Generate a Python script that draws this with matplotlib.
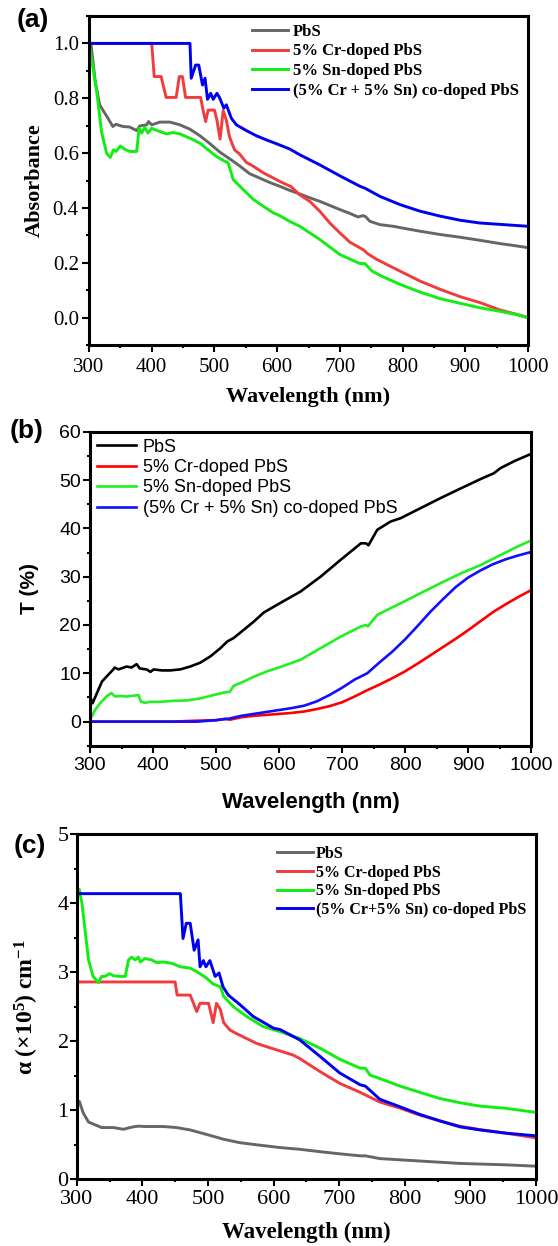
import numpy as np
import matplotlib
matplotlib.use("Agg")
import matplotlib.pyplot as plt
from matplotlib.ticker import MultipleLocator, FormatStrFormatter

# ── Data: (a) absorbance ─────────────────────────────────────────────────────
a_pbs_x = [300, 303, 310, 317, 324, 330, 338, 343, 354, 365, 376, 381, 392, 395, 400, 413, 429, 445, 461,
           477, 493, 509, 525, 541, 556, 572, 588, 604, 620, 636, 652, 668, 684, 700, 716, 729, 737, 741,
           748, 764, 785, 806, 828, 860, 892, 923, 955, 980, 1000]
a_pbs_y = [0.93, 1.0, 0.86, 0.776, 0.75, 0.728, 0.697, 0.705, 0.697, 0.695, 0.682, 0.699, 0.703, 0.715,
           0.703, 0.713, 0.713, 0.703, 0.687, 0.663, 0.634, 0.603, 0.578, 0.552, 0.525, 0.509, 0.493, 0.479,
           0.464, 0.451, 0.437, 0.424, 0.409, 0.394, 0.380, 0.367, 0.372, 0.368, 0.351, 0.339, 0.333, 0.324,
           0.315, 0.303, 0.293, 0.282, 0.270, 0.262, 0.255]

a_cr_x = [300, 400, 404, 415, 423, 439, 444, 449, 454, 474, 478, 482, 486, 490, 500, 504, 509, 514, 519, 524,
          532, 540, 551, 562, 578, 594, 604, 615, 622, 636, 652, 668, 684, 700, 716, 737, 745, 759, 785, 806,
          828, 860, 892, 923, 955, 980, 1000]
a_cr_y = [1.0, 1.0, 0.879, 0.879, 0.803, 0.803, 0.879, 0.879, 0.803, 0.803, 0.803, 0.755, 0.715, 0.757, 0.757,
          0.72, 0.651, 0.755, 0.72, 0.66, 0.612, 0.597, 0.566, 0.552, 0.528, 0.509, 0.497, 0.485, 0.478, 0.448,
          0.424, 0.388, 0.345, 0.309, 0.275, 0.248, 0.232, 0.212, 0.182, 0.158, 0.133, 0.103, 0.076, 0.055,
          0.028, 0.013, 0.0]

a_sn_x = [300, 305, 312, 320, 328, 334, 339, 343, 350, 357, 365, 376, 380, 384, 389, 394, 400, 405, 413, 424,
          434, 445, 461, 477, 493, 503, 514, 522, 530, 546, 562, 578, 594, 604, 620, 636, 668, 700, 732, 740,
          751, 764, 796, 828, 860, 892, 923, 955, 980, 1000]
a_sn_y = [1.0, 0.93, 0.83, 0.678, 0.60, 0.584, 0.612, 0.606, 0.626, 0.614, 0.606, 0.606, 0.691, 0.673, 0.694,
          0.673, 0.691, 0.685, 0.679, 0.670, 0.675, 0.670, 0.654, 0.636, 0.606, 0.588, 0.573, 0.564, 0.503,
          0.467, 0.431, 0.406, 0.382, 0.372, 0.351, 0.333, 0.285, 0.230, 0.197, 0.197, 0.170, 0.154, 0.121,
          0.093, 0.069, 0.052, 0.036, 0.023, 0.012, 0.0]

a_co_x = [300, 461, 463, 470, 475, 481, 485, 489, 494, 498, 504, 508, 515, 519, 527, 535, 551, 567, 583, 599,
          620, 636, 668, 700, 732, 740, 764, 796, 828, 860, 892, 923, 955, 1000]
a_co_y = [1.0, 1.0, 0.873, 0.921, 0.921, 0.848, 0.873, 0.796, 0.818, 0.796, 0.818, 0.803, 0.764, 0.776, 0.727,
          0.703, 0.682, 0.663, 0.648, 0.634, 0.615, 0.594, 0.557, 0.517, 0.479, 0.472, 0.442, 0.412, 0.388,
          0.370, 0.355, 0.345, 0.340, 0.333]

# ── Data: (b) transmittance (%) ──────────────────────────────────────────────
b_pbs_x = [300, 304, 311, 319, 329, 337, 339, 345, 358, 366, 374, 379, 390, 396, 401, 414, 427, 443, 459, 475,
           491, 507, 518, 528, 544, 560, 576, 592, 608, 634, 666, 698, 730, 738, 742, 756, 777, 793, 825, 857,
           889, 920, 941, 952, 975, 1000]
b_pbs_y = [5.2, 3.8, 5.9, 8.3, 9.7, 10.8, 11.2, 10.8, 11.4, 11.2, 11.9, 11.0, 10.8, 10.3, 10.8, 10.6, 10.6,
           10.8, 11.4, 12.2, 13.5, 15.2, 16.6, 17.3, 19.0, 20.7, 22.6, 23.8, 25.0, 26.9, 30.0, 33.5, 36.9, 36.9,
           36.5, 39.7, 41.4, 42.1, 44.2, 46.3, 48.3, 50.2, 51.4, 52.5, 54.0, 55.4]

b_cr_x = [300, 430, 470, 500, 515, 522, 540, 560, 580, 600, 620, 640, 660, 680, 700, 720, 740, 760, 780, 800,
          820, 840, 860, 880, 900, 920, 940, 960, 980, 1000]
b_cr_y = [0.0, 0.0, 0.2, 0.3, 0.6, 0.4, 0.9, 1.2, 1.4, 1.6, 1.8, 2.1, 2.6, 3.2, 4.0, 5.2, 6.5, 7.7, 9.0, 10.4,
          12.0, 13.7, 15.4, 17.1, 18.9, 20.8, 22.7, 24.3, 25.8, 27.2]

b_sn_x = [300, 308, 316, 326, 334, 340, 348, 358, 377, 381, 388, 395, 411, 432, 454, 475, 496, 512, 522, 528,
          544, 560, 581, 602, 634, 666, 698, 730, 738, 741, 756, 793, 825, 857, 889, 920, 952, 975, 1000]
b_sn_y = [0.4, 2.4, 3.8, 5.2, 5.9, 5.2, 5.3, 5.2, 5.5, 4.1, 3.9, 4.1, 4.1, 4.3, 4.4, 4.8, 5.5, 6.0, 6.2, 7.4,
          8.3, 9.3, 10.4, 11.3, 12.8, 15.2, 17.6, 19.7, 20.0, 19.7, 22.1, 24.5, 26.6, 28.7, 30.7, 32.4, 34.5,
          36.0, 37.5]

b_co_x = [300, 470, 500, 520, 540, 560, 580, 600, 620, 640, 660, 680, 700, 720, 740, 760, 780, 800, 820, 840,
          860, 880, 900, 920, 940, 960, 980, 1000]
b_co_y = [0.0, 0.0, 0.3, 0.6, 1.2, 1.6, 2.0, 2.4, 2.8, 3.3, 4.2, 5.5, 7.0, 8.7, 10.0, 12.3, 14.5, 17.0, 19.8,
          22.7, 25.3, 27.8, 29.8, 31.3, 32.6, 33.6, 34.4, 35.1]

# ── Data: (c) absorption coefficient (x10^5 cm^-1) ───────────────────────────
c_pbs_x = [300, 304, 310, 318, 328, 338, 356, 371, 386, 394, 405, 432, 452, 473, 498, 524, 549, 574, 610, 640,
           671, 700, 732, 740, 762, 823, 884, 953, 1000]
c_pbs_y = [1.05, 1.13, 0.96, 0.83, 0.79, 0.75, 0.75, 0.725, 0.76, 0.77, 0.765, 0.765, 0.75, 0.715, 0.65, 0.58,
           0.53, 0.50, 0.46, 0.435, 0.40, 0.37, 0.34, 0.34, 0.30, 0.265, 0.23, 0.21, 0.19]

c_cr_x = [300, 450, 453, 473, 483, 488, 501, 508, 513, 519, 524, 534, 544, 559, 574, 590, 610, 630, 640, 671,
          701, 732, 762, 793, 823, 854, 884, 915, 953, 1000]
c_cr_y = [2.86, 2.86, 2.67, 2.67, 2.43, 2.55, 2.55, 2.27, 2.55, 2.46, 2.27, 2.16, 2.11, 2.04, 1.97, 1.92, 1.86,
          1.80, 1.75, 1.56, 1.39, 1.26, 1.12, 1.03, 0.93, 0.845, 0.77, 0.72, 0.67, 0.60]

c_sn_x = [300, 304, 308, 318, 325, 333, 338, 343, 350, 356, 366, 374, 379, 384, 389, 394, 397, 404, 414, 422,
          432, 445, 458, 473, 483, 496, 508, 519, 524, 539, 559, 585, 610, 640, 671, 701, 732, 740, 747, 762,
          793, 823, 854, 884, 915, 953, 1000]
c_sn_y = [4.15, 4.2, 4.0, 3.18, 2.94, 2.85, 2.94, 2.94, 2.98, 2.95, 2.94, 2.94, 3.18, 3.22, 3.18, 3.22, 3.15,
          3.20, 3.18, 3.14, 3.15, 3.13, 3.08, 3.06, 3.01, 2.93, 2.83, 2.79, 2.65, 2.50, 2.36, 2.21, 2.14, 2.04,
          1.90, 1.74, 1.61, 1.61, 1.51, 1.46, 1.35, 1.26, 1.17, 1.11, 1.06, 1.03, 0.97]

c_co_x = [300, 458, 462, 467, 473, 479, 485, 488, 493, 497, 503, 511, 517, 523, 531, 549, 569, 600, 610, 630,
          640, 671, 701, 732, 740, 762, 793, 823, 854, 884, 915, 953, 1000]
c_co_y = [4.14, 4.14, 3.49, 3.71, 3.71, 3.32, 3.47, 3.08, 3.17, 3.08, 3.17, 2.94, 2.99, 2.79, 2.67, 2.53, 2.36,
          2.19, 2.17, 2.07, 2.02, 1.78, 1.54, 1.37, 1.35, 1.16, 1.05, 0.94, 0.845, 0.76, 0.715, 0.67, 0.63]

labels_a = ["PbS", "5% Cr-doped PbS", "5% Sn-doped PbS", "(5% Cr + 5% Sn) co-doped PbS"]
labels_c = ["PbS", "5% Cr-doped PbS", "5% Sn-doped PbS", "(5% Cr+5% Sn) co-doped PbS"]

SERIF = "Liberation Serif"
SANS = "Liberation Sans"

plt.rcParams["mathtext.fontset"] = "custom"
plt.rcParams["mathtext.rm"] = SERIF
plt.rcParams["mathtext.bf"] = SERIF + ":bold"
plt.rcParams["mathtext.it"] = SERIF + ":italic"

W, H = 558, 1246
fig = plt.figure(figsize=(W / 100, H / 100), dpi=100)


def px_axes(left, right, top, bottom):
    return fig.add_axes([left / W, 1 - bottom / H, (right - left) / W, (bottom - top) / H])


def style(ax, family, tick_size, ymajor, yminor, pad):
    ax.set_xlim(300, 1000)
    ax.xaxis.set_major_locator(MultipleLocator(100))
    ax.xaxis.set_minor_locator(MultipleLocator(50))
    ax.yaxis.set_major_locator(MultipleLocator(ymajor))
    ax.yaxis.set_minor_locator(MultipleLocator(yminor))
    ax.tick_params(which="both", direction="out", top=False, right=False, width=1.5)
    ax.tick_params(which="major", length=4.8, pad=2.5, labelsize=tick_size)
    ax.tick_params(axis="x", which="major", pad=pad)
    ax.tick_params(which="minor", length=2.4)
    for s in ax.spines.values():
        s.set_linewidth(2.2)
    for lab in ax.get_xticklabels() + ax.get_yticklabels():
        lab.set_family(family)


# ── (a) Absorbance ───────────────────────────────────────────────────────────
ax = px_axes(89, 528, 16, 345)
ax.plot(a_pbs_x, a_pbs_y, color="#666666", lw=2.1, label=labels_a[0])
ax.plot(a_cr_x, a_cr_y, color="#f03c3c", lw=2.1, label=labels_a[1])
ax.plot(a_sn_x, a_sn_y, color="#11ee11", lw=2.1, label=labels_a[2])
ax.plot(a_co_x, a_co_y, color="#0000f0", lw=2.1, label=labels_a[3])
ax.set_ylim(-0.1, 1.1)
ax.yaxis.set_major_formatter(FormatStrFormatter("%.1f"))
style(ax, SERIF, 15, 0.2, 0.1, pad=4.5)
ax.set_xlabel("Wavelength (nm)", family=SERIF, fontweight="bold", fontsize=16, labelpad=7)
ax.set_ylabel("Absorbance", family=SERIF, fontweight="bold", fontsize=16)
ax.yaxis.set_label_coords(-0.101, 0.5)
ax.legend(loc="upper left", bbox_to_anchor=(0.3706, 0.977), frameon=False, borderpad=0, borderaxespad=0,
          handlelength=2.2, handletextpad=0.26, labelspacing=0.23,
          prop={"family": SERIF, "weight": "bold", "size": 12})
fig.text(17 / W, 1 - 8 / H, "(a)", family=SANS, fontweight="bold", fontsize=19, va="top", ha="left")

# ── (b) Transmittance ────────────────────────────────────────────────────────
ax = px_axes(90, 531, 431.7, 745.8)
ax.plot(b_pbs_x, b_pbs_y, color="black", lw=1.9, label=labels_a[0])
ax.plot(b_cr_x, b_cr_y, color="#ff0000", lw=1.9, label=labels_a[1])
ax.plot(b_sn_x, b_sn_y, color="#22f022", lw=1.9, label=labels_a[2])
ax.plot(b_co_x, b_co_y, color="#1010ff", lw=1.9, label=labels_a[3])
ax.set_ylim(-5, 60)
style(ax, SANS, 14, 10, 5, pad=3.5)
ax.tick_params(axis="y", which="major", pad=1.5)
ax.set_xlabel("Wavelength (nm)", family=SANS, fontweight="bold", fontsize=16, labelpad=13)
ax.set_ylabel("T (%)", family=SANS, fontweight="bold", fontsize=15)
ax.yaxis.set_label_coords(-0.115, 0.5)
ax.legend(loc="upper left", bbox_to_anchor=(0.0152, 0.978), frameon=False, borderpad=0, borderaxespad=0,
          handlelength=2.2, handletextpad=0.36, labelspacing=0.19,
          prop={"family": SANS, "size": 13})
fig.text(10 / W, 1 - 419 / H, "(b)", family=SANS, fontweight="bold", fontsize=19, va="top", ha="left")

# ── (c) Absorption coefficient ───────────────────────────────────────────────
ax = px_axes(76.7, 536, 834.3, 1179.3)
ax.plot(c_pbs_x, c_pbs_y, color="#666666", lw=2.1, label=labels_c[0])
ax.plot(c_cr_x, c_cr_y, color="#f03c3c", lw=2.1, label=labels_c[1])
ax.plot(c_sn_x, c_sn_y, color="#11ee11", lw=2.1, label=labels_c[2])
ax.plot(c_co_x, c_co_y, color="#0000f0", lw=2.1, label=labels_c[3])
ax.set_ylim(0, 5)
style(ax, SERIF, 16, 1, 0.5, pad=3)
ax.tick_params(axis="y", which="major", pad=1)
ax.set_xlabel("Wavelength (nm)", family=SERIF, fontweight="bold", fontsize=16.5, labelpad=9)
ax.set_ylabel(r"$\mathbf{\alpha\ (\times 10^{5})\ cm^{-1}}$", fontsize=17)
ax.yaxis.set_label_coords(-0.078, 0.5)
ax.legend(loc="upper left", bbox_to_anchor=(0.4368, 0.966), frameon=False, borderpad=0, borderaxespad=0,
          handlelength=2.25, handletextpad=0.17, labelspacing=0.16,
          prop={"family": SERIF, "weight": "bold", "size": 11.5})
fig.text(14 / W, 1 - 834 / H, "(c)", family=SANS, fontweight="bold", fontsize=19, va="top", ha="left")

fig.savefig("out.png", dpi=100)
